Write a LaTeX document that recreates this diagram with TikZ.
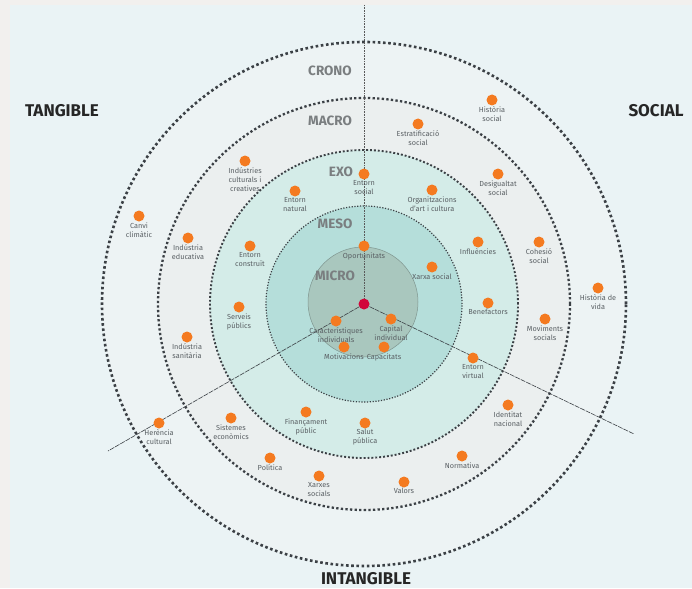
\documentclass[tikz,border=0pt]{standalone}
\usepackage{fontspec}
\setmainfont{Fira Sans}
\usetikzlibrary{positioning}
\definecolor{pageout}{HTML}{F2F0EE}
\definecolor{panel}{HTML}{EAF3F5}
\definecolor{cronofill}{HTML}{EDF3F4}
\definecolor{macrofill}{HTML}{EBEFEF}
\definecolor{exofill}{HTML}{D4ECE8}
\definecolor{mesofill}{HTML}{B5DEDA}
\definecolor{microfill}{HTML}{A9C7BE}
\definecolor{dotorange}{HTML}{F47A20}
\definecolor{centrered}{HTML}{D1063A}
\definecolor{ringdark}{HTML}{3B4045}
\definecolor{lblgray}{HTML}{5A6064}
\definecolor{titlegray}{HTML}{7A7E80}

\begin{document}
\begin{tikzpicture}[x=1pt,y=-1pt,
	dot/.style={circle, fill=dotorange, inner sep=0pt, minimum size=11pt},
	lbl/.style={font=\fontsize{7.3}{9}\selectfont, text=lblgray, align=center, inner sep=0.5pt},
	level/.style={font=\fontsize{13.5}{15}\selectfont\bfseries, text=titlegray},
	side/.style={font=\fontsize{17}{19}\selectfont\bfseries, text=black!85},
	spoke/.style={ringdark, line width=0.6pt, dash pattern=on 5pt off 1pt}]
	\useasboundingbox (0,0) rectangle (692,588);
	\fill[pageout] (0,0) rectangle (692,588);
	\fill[panel] (10,5) rectangle (692,588);

	\coordinate (c) at (364,304);
	\fill[cronofill] (c) circle[radius=262pt];
	\fill[macrofill] (c) circle[radius=206pt];
	\fill[exofill] (c) circle[radius=154pt];
	\fill[mesofill] (c) circle[radius=98pt];
	\draw[microfill!75!black, line width=0.5pt, fill=microfill] (363,302) circle[radius=55pt];

	\draw[ringdark, line width=2.6pt, dash pattern=on 2.6pt off 2.6pt] (c) circle[radius=262pt];
	\draw[ringdark, line width=2.3pt, dash pattern=on 2.3pt off 2.3pt] (c) circle[radius=206pt];
	\draw[ringdark, line width=1.9pt, dash pattern=on 1.9pt off 2pt] (c) circle[radius=154pt];
	\draw[ringdark, line width=1.2pt, dash pattern=on 1.2pt off 1.6pt] (c) circle[radius=98pt];

	\coordinate (top) at (364,5);
	\coordinate (sw) at (108,451);
	\coordinate (se) at (634,434);
	\draw[gray!70!black, line width=0.6pt, densely dotted] (top) -- (c);
	\draw[spoke] (c) -- (sw);
	\draw[spoke] (c) -- (se);

	\node[level] (crono) at (330,71) {CRONO};
	\node[level] (macro) at (330,121) {MACRO};
	\node[level] (exo) at (341,172) {EXO};
	\node[level] (meso) at (335,224) {MESO};
	\node[level] (micro) at (335,276) {MICRO};

	\node[side] (tang) at (62,111) {TANGIBLE};
	\node[side] (soc) at (656,111) {SOCIAL};
	\node[side] (intang) at (366,579) {INTANGIBLE};

	\node[dot] (d1) at (492,100) {};
	\node[lbl, below=0pt of d1] (l1) {Història\\social};
	\node[dot] (d2) at (418,124) {};
	\node[lbl, below=0pt of d2] (l2) {Estratificació\\social};
	\node[dot] (d3) at (245,161) {};
	\node[lbl, below=0pt of d3] (l3) {Indústries\\culturals i\\creatives};
	\node[dot] (d4) at (364,174) {};
	\node[lbl, below=0pt of d4] (l4) {Entorn\\social};
	\node[dot] (d5) at (498,174) {};
	\node[lbl, below=0pt of d5] (l5) {Desigualtat\\social};
	\node[dot] (d6) at (432,190) {};
	\node[lbl, below=0pt of d6] (l6) {Organitzacions\\d'art i cultura};
	\node[dot] (d7) at (295,191) {};
	\node[lbl, below=0pt of d7] (l7) {Entorn\\natural};
	\node[dot] (d8) at (139,216) {};
	\node[lbl, below=0pt of d8] (l8) {Canvi\\climàtic};
	\node[dot] (d9) at (188,238) {};
	\node[lbl, below=0pt of d9] (l9) {Indústria\\educativa};
	\node[dot] (d10) at (250,246) {};
	\node[lbl, below=0pt of d10] (l10) {Entorn\\construït};
	\node[dot] (d11) at (364,246) {};
	\node[lbl, below=0pt of d11] (l11) {Oportunitats};
	\node[dot] (d12) at (478,242) {};
	\node[lbl, below=0pt of d12] (l12) {Influències};
	\node[dot] (d13) at (539,242) {};
	\node[lbl, below=0pt of d13] (l13) {Cohesió\\social};
	\node[dot] (d14) at (432,267) {};
	\node[lbl, below=0pt of d14] (l14) {Xarxa social};
	\node[dot] (d15) at (598,288) {};
	\node[lbl, below=0pt of d15] (l15) {Història de\\vida};
	\node[dot] (d16) at (239,307) {};
	\node[lbl, below=0pt of d16] (l16) {Serveis\\públics};
	\node[dot] (d17) at (488,303) {};
	\node[lbl, below=0pt of d17] (l17) {Benefactors};
	\node[dot] (d18) at (545,319) {};
	\node[lbl, below=0pt of d18] (l18) {Moviments\\socials};
	\node[dot] (d19) at (187,337) {};
	\node[lbl, below=0pt of d19] (l19) {Indústria\\sanitària};
	\node[dot] (d20) at (336,321) {};
	\node[lbl, below=0pt of d20] (l20) {Característiques\\individuals};
	\node[dot] (d21) at (391,319) {};
	\node[lbl, below=0pt of d21] (l21) {Capital\\individual};
	\node[dot] (d22) at (344,347) {};
	\node[lbl, below=0pt of d22] (l22) {Motivacions};
	\node[dot] (d23) at (384,347) {};
	\node[lbl, below=0pt of d23] (l23) {Capacitats};
	\node[dot] (d24) at (473,358) {};
	\node[lbl, below=0pt of d24] (l24) {Entorn\\virtual};
	\node[dot] (d25) at (508,405) {};
	\node[lbl, below=0pt of d25] (l25) {Identitat\\nacional};
	\node[dot] (d26) at (159,423) {};
	\node[lbl, below=0pt of d26] (l26) {Herència\\cultural};
	\node[dot] (d27) at (231,418) {};
	\node[lbl, below=0pt of d27] (l27) {Sistemes\\econòmics};
	\node[dot] (d28) at (306,412) {};
	\node[lbl, below=0pt of d28] (l28) {Finançament\\públic};
	\node[dot] (d29) at (365,423) {};
	\node[lbl, below=0pt of d29] (l29) {Salut\\pública};
	\node[dot] (d30) at (462,456) {};
	\node[lbl, below=0pt of d30] (l30) {Normativa};
	\node[dot] (d31) at (270,458) {};
	\node[lbl, below=0pt of d31] (l31) {Política};
	\node[dot] (d32) at (319,476) {};
	\node[lbl, below=0pt of d32] (l32) {Xarxes\\socials};
	\node[dot] (d33) at (404,482) {};
	\node[lbl, below=0pt of d33] (l33) {Valors};

	\node[circle, fill=centrered, inner sep=0pt, minimum size=11pt] (ctr) at (c) {};
\end{tikzpicture}
\end{document}
